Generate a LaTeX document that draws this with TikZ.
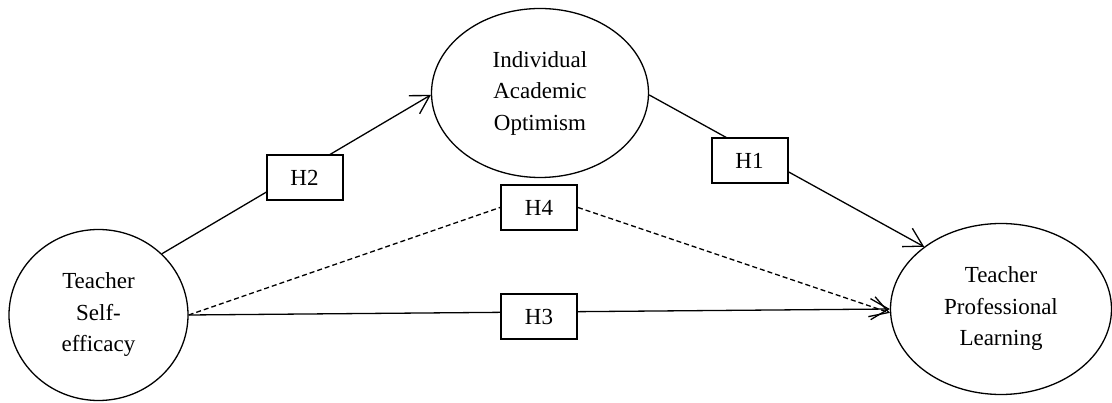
\documentclass[tikz,border=0pt]{standalone}
\usepackage{fontspec}
\setmainfont{Liberation Serif}
\usetikzlibrary{shapes.geometric,arrows.meta}
\tikzset{
  latent/.style={ellipse,draw,line width=1.3pt,inner sep=0pt,align=center,
    font=\fontsize{23}{31.5}\selectfont},
  hbox/.style={rectangle,draw,fill=white,line width=2pt,minimum width=76pt,
    minimum height=45pt,inner sep=0pt,font=\fontsize{23}{26}\selectfont},
  path/.style={line width=1.3pt},
  arr/.style={-{Straight Barb[length=18pt,width=21pt,line width=1.3pt]}},
  dsh/.style={dash pattern=on 5pt off 3pt}
}
\begin{document}
\begin{tikzpicture}[x=1pt,y=-1pt]
\useasboundingbox (0,0) rectangle (1112,403);
\node[latent,minimum width=179pt,minimum height=171pt] (tse) at (98.5,315) {Teacher\\Self-\\efficacy};
\node[latent,minimum width=217pt,minimum height=169pt] (iao) at (540,93) {Individual\\Academic\\Optimism};
\node[latent,minimum width=221pt,minimum height=171pt] (tpl) at (1001,309) {Teacher\\Professional\\Learning};
\coordinate (h2c) at (304.5,178);
\coordinate (h1c) at (749.5,161);
\coordinate (h4c) at (539,207.5);
\coordinate (h3c) at (539,316.5);
% connectors
\draw[path,arr] (tse.44) -- (iao.181);
\draw[path,arr] (iao.-1) -- (tpl.141);
\draw[path,arr] (tse.east) -- (tpl.west);
\node[hbox] (h2) at (h2c) {H2};
\node[hbox] (h1) at (h1c) {H1};
\node[hbox] (h4) at (h4c) {H4};
\node[hbox] (h3) at (h3c) {H3};
\draw[path,dsh] (tse.east) -- (h4.west);
\draw[path,dsh,arr] (h4.east) -- (tpl.182);
\end{tikzpicture}
\end{document}
